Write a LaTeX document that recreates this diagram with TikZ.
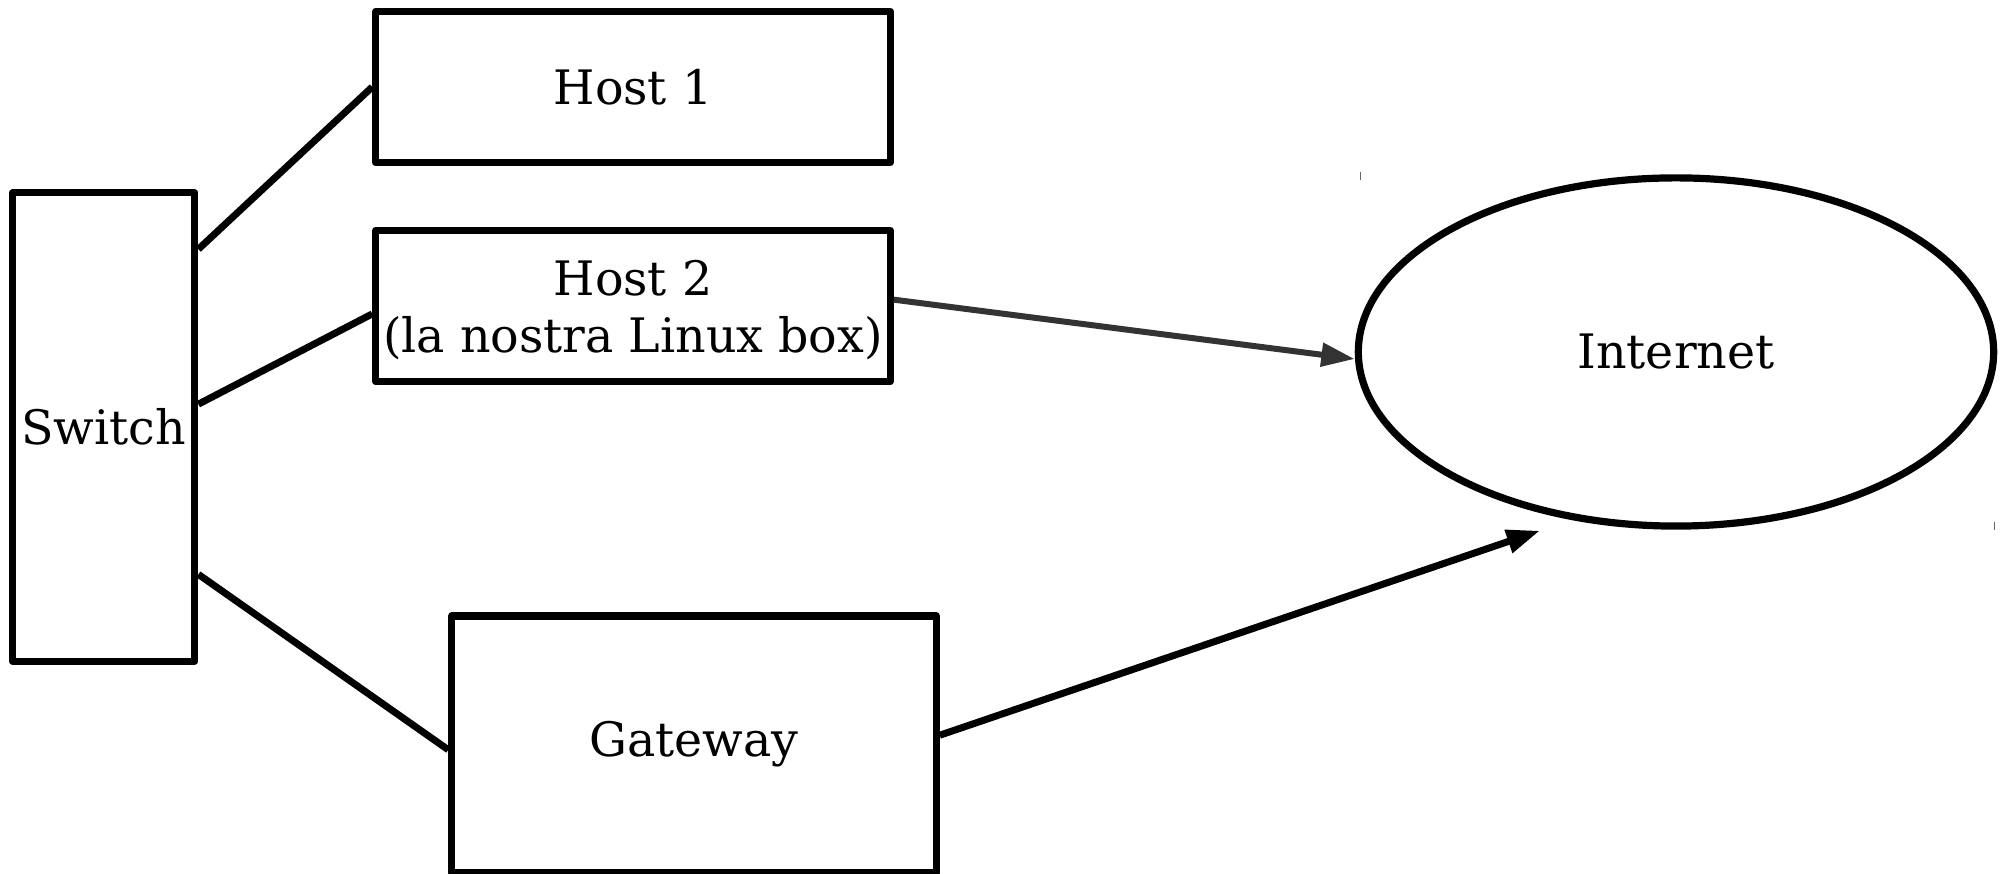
\documentclass[tikz,border=0pt]{standalone}
\usepackage{fontspec}
\setmainfont{DejaVu Serif}
\usetikzlibrary{shapes.geometric,arrows.meta,calc}
\definecolor{darkgray}{HTML}{333333}
\begin{document}
\begin{tikzpicture}[x=0.01cm,y=-0.01cm,
  box/.style={draw=black,line width=0.072cm,line join=round,rectangle,inner sep=0pt,
    font=\fontsize{13.5}{16}\selectfont,align=center},
  link/.style={draw=black,line width=0.07cm},
  arr/.style={line width=0.07cm,-{Triangle[length=9.5pt,width=6.5pt]}}]
\useasboundingbox (0,0) rectangle (2008,874);
\node[box,minimum width=1.82cm,minimum height=4.68cm] (sw) at (103.75,427) {Switch};
\node[box,minimum width=5.14cm,minimum height=1.51cm] (h1) at (633,87) {Host 1};
\node[box,minimum width=5.14cm,minimum height=1.51cm] (h2) at (633,306) {};
\node[font=\fontsize{13.5}{16}\selectfont,align=center,inner sep=0pt] (h2t) at (633,310) {Host 2\\(la nostra Linux box)};
\node[box,minimum width=4.84cm,minimum height=2.57cm] (gw) at (694,744.5) {Gateway};
\node[box,ellipse,minimum width=6.35cm,minimum height=3.48cm] (inet) at (1676,352) {Internet};
\draw[link] ($(sw.north east)!0.126!(sw.south east)$) -- (h1.west);
\draw[link] ($(sw.north east)!0.452!(sw.south east)$) -- ($(h2.north west)!0.55!(h2.south west)$);
\draw[link] ($(sw.north east)!0.81!(sw.south east)$) -- ($(gw.north west)!0.52!(gw.south west)$);
\draw[arr,draw=darkgray,fill=darkgray,line width=0.06cm] ($(h2.north east)!0.46!(h2.south east)$) -- ($(inet.west)+(0,7)$);
\draw[arr,fill=black] ($(gw.north east)!0.465!(gw.south east)$) -- ($(inet.south)+(-136,1)$);
\coordinate (m1) at (1360,172);
\coordinate (m2) at (1994,522);
\draw[black!60,line width=0.01cm] (m1) -- ++(0,8);
\draw[black!60,line width=0.01cm] (m2) -- ++(0,8);
\end{tikzpicture}
\end{document}
